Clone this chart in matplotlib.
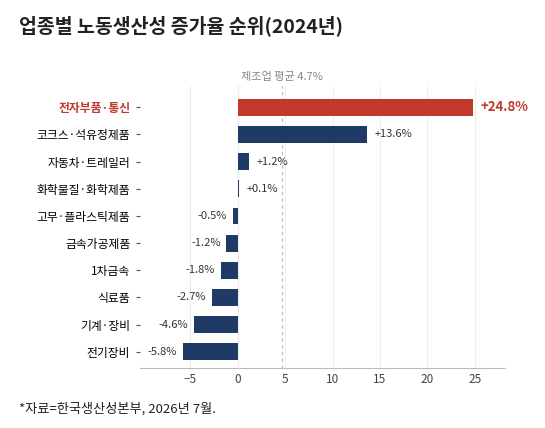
import matplotlib
matplotlib.use("Agg")
import matplotlib.pyplot as plt

plt.rcParams['font.family'] = ['Noto Sans CJK KR', 'DejaVu Sans']

categories = ["전자부품·통신", "코크스·석유정제품", "자동차·트레일러", "화학물질·화학제품",
              "고무·플라스틱제품", "금속가공제품", "1차금속", "식료품", "기계·장비", "전기장비"]
values = [24.8, 13.6, 1.2, 0.1, -0.5, -1.2, -1.8, -2.7, -4.6, -5.8]
avg = 4.7
ticks = [-5, 0, 5, 10, 15, 20, 25]

fig = plt.figure(figsize=(5.45, 4.28), dpi=100)
ax = fig.add_axes([0.257, 0.14, 0.67, 0.66])
ypos = list(range(len(categories)))
colors = ["#c0392b"] + ["#1f3a64"] * (len(categories) - 1)
ax.barh(ypos, values, height=0.62, color=colors, zorder=3)
ax.set_ylim(len(categories) - 0.4, -0.8)
ax.set_xlim(-10.3, 28.2)
ax.set_xticks(ticks)
ax.set_yticks(ypos)
ax.set_yticklabels(categories, fontsize=8.5)
ax.get_yticklabels()[0].set_color("#c0392b")
ax.get_yticklabels()[0].set_fontweight("bold")
ax.tick_params(axis='y', length=3, color="#555555", pad=4)
ax.tick_params(axis='x', labelsize=8.5, colors="#444444", length=0)
ax.grid(axis='x', color="#eeeeee", lw=0.8, zorder=0)
for s in ["top", "right", "left"]:
    ax.spines[s].set_visible(False)
ax.spines["bottom"].set_color("#bbbbbb")
ax.axvline(0, color="#cccccc", lw=0.8, zorder=1)
ax.axvline(avg, color="#bbbbbb", lw=0.8, ls=(0, (3, 3)), zorder=2)
ax.text(avg, -0.95, f"제조업 평균 {avg}%", ha="center", va="bottom", fontsize=8, color="#888888")
for i, v in enumerate(values):
    lab = f"{v:+.1f}%"
    if i == 0:
        ax.text(v + 0.8, i, lab, va="center", ha="left", fontsize=9.5, color="#c0392b", fontweight="bold")
    elif v >= 0:
        ax.text(v + 0.8, i, lab, va="center", ha="left", fontsize=8, color="#333333")
    else:
        ax.text(v - 0.6, i, lab, va="center", ha="right", fontsize=8, color="#333333")
fig.text(0.035, 0.925, "업종별 노동생산성 증가율 순위(2024년)", fontsize=14, fontweight="bold", color="#222222")
fig.text(0.035, 0.035, "*자료=한국생산성본부, 2026년 7월.", fontsize=9.5, color="#222222")
fig.savefig("out.png", dpi=100)
